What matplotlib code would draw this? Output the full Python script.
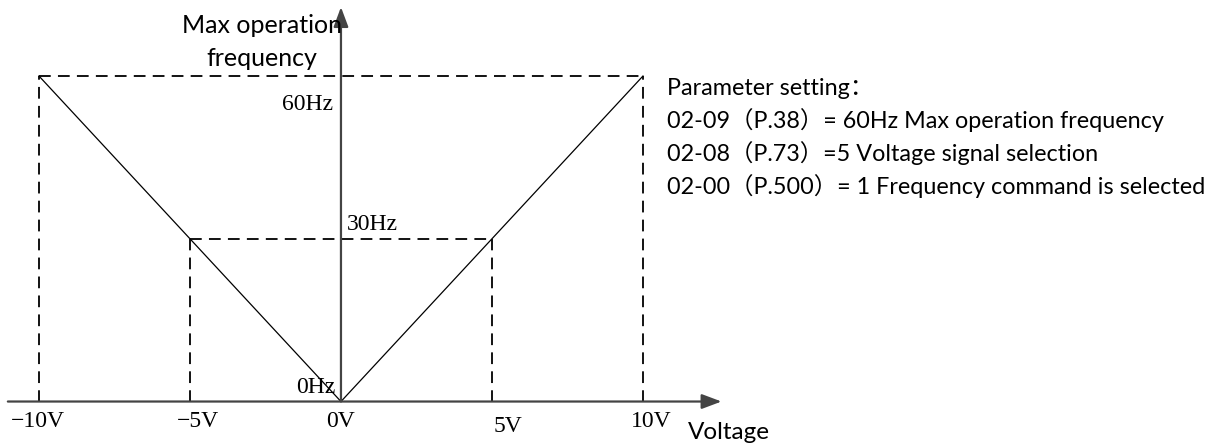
import matplotlib
matplotlib.use("Agg")
import matplotlib.pyplot as plt

# data
volts = [-10, 0, 10]
freq = [60, 0, 60]
max_freq = 60
half_freq = 30
v_full = 10
v_half = 5

x_labels = ["−10V", "−5V", "0V", "5V", "10V"]
x_label_pos = [-10.05, -4.72, 0.0, 5.53, 10.26]
x_label_y = [-4.7, -4.7, -4.7, -5.6, -4.7]

params = [
    "Parameter setting：",
    "02-09（P.38）= 60Hz Max operation frequency",
    "02-08（P.73）=5 Voltage signal selection",
    "02-00（P.500）= 1 Frequency command is selected",
]

serif = ["Liberation Serif", "DejaVu Serif"]
sans = ["Lato", "Noto Sans CJK SC", "DejaVu Sans"]

fig = plt.figure(figsize=(12.18, 4.44), dpi=100)
ax = fig.add_axes([0, 0, 1, 1])
ax.set_xlim(-11.29, 29.04)
ax.set_ylim(-7.83, 74.01)
ax.axis("off")

# axes with arrows
ax.annotate("", xy=(12.6, 0), xytext=(-11.03, 0),
            arrowprops=dict(arrowstyle="-|>,head_length=1.2,head_width=0.45",
                            color="#444444", lw=1.6, shrinkA=0, shrinkB=0))
ax.annotate("", xy=(0, 72.7), xytext=(0, 0),
            arrowprops=dict(arrowstyle="-|>,head_length=1.2,head_width=0.45",
                            color="#444444", lw=1.6, shrinkA=0, shrinkB=0))

# dashed guides
dash = dict(color="black", lw=1.3, dashes=(6.5, 4))
ax.plot([-v_full, v_full], [max_freq, max_freq], **dash)
ax.plot([-v_full, -v_full], [0, max_freq], **dash)
ax.plot([v_full, v_full], [0, max_freq], **dash)
ax.plot([-v_half, v_half], [half_freq, half_freq], **dash)
ax.plot([-v_half, -v_half], [0, half_freq], **dash)
ax.plot([v_half, v_half], [0, half_freq], **dash)

# V line
ax.plot(volts, freq, color="black", lw=0.9)

# labels
ax.text(-2.62, 67.9, "Max operation", fontsize=18, family=sans, ha="center", va="baseline")
ax.text(-2.62, 61.8, "frequency", fontsize=18, family=sans, ha="center", va="baseline")
ax.text(-0.26, 53.7, "60Hz", fontsize=17, family=serif, ha="right", va="baseline")
ax.text(0.2, 31.6, "30Hz", fontsize=17, family=serif, ha="left", va="baseline")
ax.text(-0.2, 1.6, "0Hz", fontsize=17, family=serif, ha="right", va="baseline")

for pos, lab, yy in zip(x_label_pos, x_labels, x_label_y):
    ax.text(pos, yy, lab, fontsize=17, family=serif, ha="center", va="baseline")

ax.text(11.5, -6.9, "Voltage", fontsize=17.5, family=sans, ha="left", va="baseline")

for i, line in enumerate(params):
    ax.text(10.8, 56.5 - i * 6.1, line, fontsize=16.8, family=sans, ha="left", va="baseline")

fig.savefig("out.png", dpi=100)
